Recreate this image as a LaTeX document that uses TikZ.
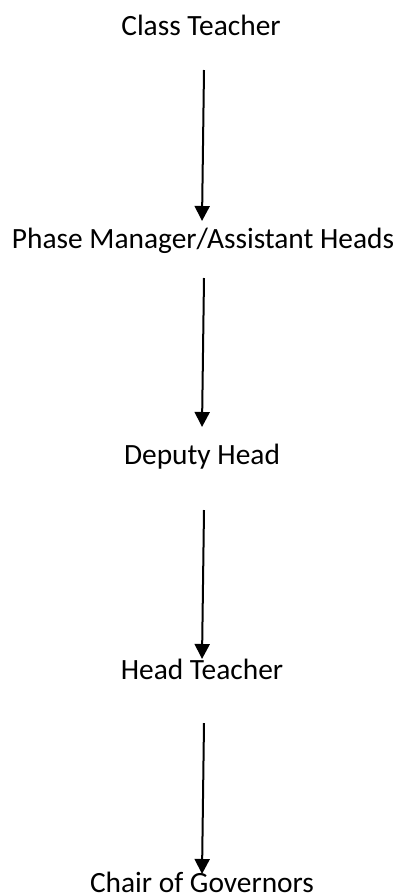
\documentclass[tikz,border=0pt]{standalone}
\usepackage{fontspec}
\setmainfont{Carlito}
\usetikzlibrary{arrows.meta}
\begin{document}
\begin{tikzpicture}[x=1pt,y=-1pt,
  lbl/.style={anchor=base,inner sep=0pt,font=\fontsize{29.4}{34}\selectfont},
  arr/.style={line width=2pt,-{Triangle[width=15pt,length=15pt]}}]
\useasboundingbox (0,0) rectangle (396,895);
\node[lbl] (ct) at (201,35) {Class Teacher};
\node[lbl] (pm) at (203,248) {Phase Manager/Assistant Heads};
\node[lbl] (dh) at (202,464) {Deputy Head};
\node[lbl] (ht) at (202,679) {Head Teacher};
\node[lbl] (cg) at (202,892) {Chair of Governors};
\coordinate (a1s) at (204,70);  \coordinate (a1e) at (202,221);
\coordinate (a2s) at (204,278); \coordinate (a2e) at (202,427);
\coordinate (a3s) at (204,510); \coordinate (a3e) at (202,659);
\coordinate (a4s) at (204,723); \coordinate (a4e) at (202,874);
\draw[arr] (a1s) -- (a1e);
\draw[arr] (a2s) -- (a2e);
\draw[arr] (a3s) -- (a3e);
\draw[arr] (a4s) -- (a4e);
\end{tikzpicture}
\end{document}
